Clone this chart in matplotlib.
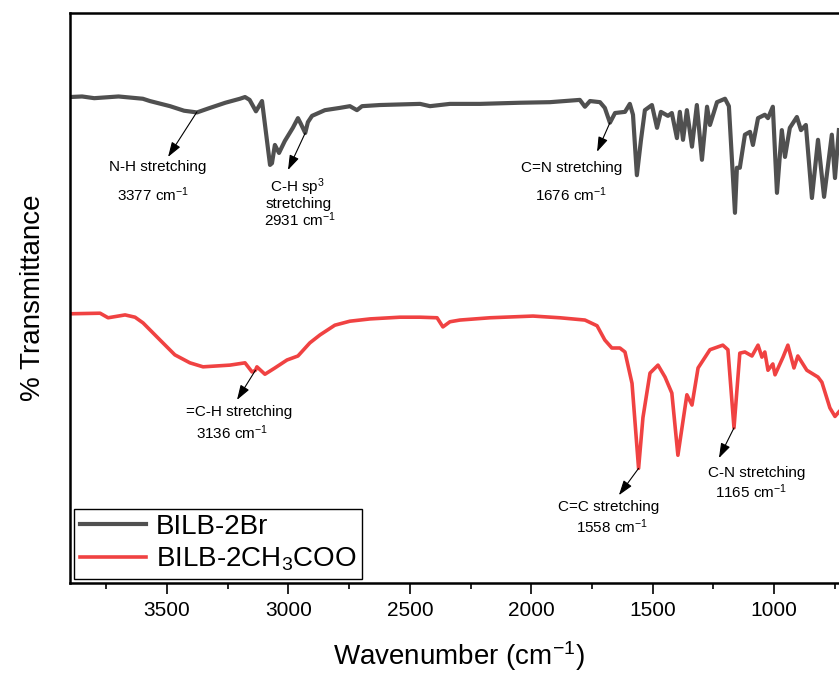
import matplotlib
matplotlib.use('Agg')
import matplotlib.pyplot as plt
from matplotlib.ticker import MultipleLocator

plt.rcParams['font.family'] = 'Liberation Sans'
plt.rcParams['mathtext.fontset'] = 'custom'
plt.rcParams['mathtext.rm'] = 'Liberation Sans'
plt.rcParams['mathtext.default'] = 'regular'

# FTIR spectra: wavenumber (cm-1) and transmittance (arb. %)
wn_br = [3900, 3850, 3800, 3700, 3600, 3571, 3488, 3430, 3377, 3330, 3260, 3200,
         3179, 3160, 3134, 3109, 3089, 3076, 3068, 3056, 3039, 3015, 2982, 2961,
         2949, 2931, 2920, 2903, 2850, 2788, 2747, 2718, 2697, 2623, 2541, 2458,
         2417, 2335, 2211, 2047, 1923, 1800, 1779, 1758, 1717, 1697, 1676, 1655,
         1614, 1594, 1581, 1565, 1548, 1532, 1503, 1482, 1466, 1437, 1421, 1400,
         1388, 1375, 1359, 1338, 1318, 1297, 1276, 1264, 1235, 1202, 1186, 1161,
         1153, 1141, 1120, 1099, 1087, 1066, 1038, 1025, 1005, 988, 968, 955,
         935, 906, 889, 869, 844, 819, 794, 762, 749, 733]
t_br = [85.2, 85.3, 85.0, 85.3, 84.9, 84.5, 83.6, 82.8, 82.5, 83.2, 84.2, 84.9,
        85.2, 84.7, 82.7, 84.5, 77.7, 73.3, 73.6, 76.8, 75.4, 77.5, 79.8, 81.5,
        80.5, 78.9, 80.8, 81.9, 82.9, 83.3, 83.6, 82.9, 83.6, 83.8, 83.9, 84.0,
        83.6, 84.0, 84.0, 84.2, 84.3, 84.7, 83.5, 84.5, 84.3, 83.3, 80.7, 82.4,
        82.6, 84.0, 82.1, 71.5, 77.7, 82.9, 83.8, 79.8, 82.6, 81.9, 82.4, 78.0,
        82.6, 77.7, 82.9, 76.5, 83.8, 74.2, 83.5, 80.3, 84.3, 84.9, 83.6, 64.9,
        72.8, 72.8, 78.6, 79.1, 76.8, 81.5, 82.1, 81.5, 83.5, 68.4, 79.4, 74.7,
        79.8, 81.7, 79.4, 80.3, 67.5, 77.7, 67.7, 78.6, 71.0, 79.4]

wn_ac = [3900, 3776, 3743, 3673, 3632, 3599, 3529, 3468, 3406, 3352, 3241, 3179,
         3150, 3136, 3130, 3097, 3056, 3006, 2961, 2912, 2870, 2809, 2747, 2664,
         2541, 2458, 2388, 2364, 2335, 2294, 2170, 1993, 1882, 1779, 1729, 1697,
         1668, 1635, 1614, 1585, 1558, 1540, 1511, 1478, 1449, 1421, 1396, 1359,
         1338, 1313, 1264, 1211, 1190, 1165, 1141, 1120, 1091, 1066, 1050, 1038,
         1025, 1005, 996, 963, 943, 918, 902, 865, 819, 803, 770, 749, 733]
t_ac = [47.2, 47.3, 46.5, 47.0, 46.6, 45.6, 42.6, 40.0, 38.6, 37.9, 38.2, 38.6,
        37.0, 37.3, 37.9, 36.6, 37.7, 39.1, 39.8, 42.1, 43.5, 45.2, 45.9, 46.3,
        46.6, 46.6, 46.5, 44.9, 45.8, 46.1, 46.5, 46.8, 46.5, 46.1, 45.1, 42.6,
        41.2, 41.2, 40.5, 35.0, 20.1, 29.0, 36.8, 38.2, 36.1, 33.3, 22.4, 33.0,
        31.2, 37.7, 40.9, 41.7, 40.9, 27.2, 40.3, 40.5, 39.8, 41.7, 39.6, 40.5,
        37.3, 38.4, 36.5, 39.6, 41.7, 37.7, 39.8, 37.3, 36.1, 35.2, 30.7, 29.2, 30.0]

series_names = ['BILB-2Br', 'BILB-2CH$_3$COO']
series_colors = ['#505050', '#f04242']

# band assignments: (label lines, peak wavenumber, peak value, arrow head, text centres)
bands = [
    (['N-H stretching', '3377 cm$^{-1}$'], (3377, 82.6), (3496, 74.7), [(3540, 72.9), (3558, 68.0)]),
    (['C-H sp$^{3}$', 'stretching', '2931 cm$^{-1}$'], (2931, 78.9), (3002, 72.4),
     [(2961, 69.4), (2957, 66.5), (2953, 63.7)]),
    (['C=N stretching', '1676 cm$^{-1}$'], (1676, 80.7), (1729, 75.6), [(1832, 72.8), (1837, 68.0)]),
    (['=C-H stretching', '3136 cm$^{-1}$'], (3136, 37.3), (3212, 32.1), [(3204, 30.0), (3233, 26.3)]),
    (['C=C stretching', '1558 cm$^{-1}$'], (1558, 20.1), (1639, 15.4), [(1680, 13.3), (1668, 9.8)]),
    (['C-N stretching', '1165 cm$^{-1}$'], (1165, 27.2), (1227, 21.9), [(1070, 19.3), (1095, 16.0)]),
]

fig = plt.figure(figsize=(8.39, 6.75), dpi=100)
ax = fig.add_axes([0.0834, 0.1363, 0.926, 0.845])

ax.plot(wn_br, t_br, color=series_colors[0], lw=3, label=series_names[0])
ax.plot(wn_ac, t_ac, color=series_colors[1], lw=2.6, label=series_names[1])

for lines, peak, head, spots in bands:
    ax.annotate('', xy=head, xytext=peak,
                arrowprops=dict(arrowstyle='-|>,head_length=0.9,head_width=0.3',
                                color='black', lw=0.8, shrinkA=0, shrinkB=0))
    for txt, (x, y) in zip(lines, spots):
        ax.text(x, y, txt, ha='center', va='center', fontsize=11)

ax.set_xlim(3900, 700)
ax.set_ylim(0, 100)
ax.xaxis.set_major_locator(MultipleLocator(500))
ax.xaxis.set_minor_locator(MultipleLocator(250))
ax.tick_params(axis='x', which='major', direction='out', length=8, width=1.2,
               labelsize=15, pad=5)
ax.tick_params(axis='x', which='minor', direction='out', length=4.3, width=1.2)
ax.set_yticks([])
ax.spines['right'].set_visible(False)
for s in ['left', 'top', 'bottom']:
    ax.spines[s].set_linewidth(1.8)

ax.set_xlabel('Wavenumber (cm$^{-1}$)', fontsize=20, labelpad=14)
ax.set_ylabel('% Transmittance', fontsize=20, labelpad=17)

leg = ax.legend(loc='lower left', fontsize=20, frameon=True, fancybox=False,
                edgecolor='black', framealpha=1, borderaxespad=0.15,
                handlelength=2.4, handletextpad=0.35, labelspacing=0.2,
                borderpad=0.2)
leg.get_frame().set_linewidth(1.0)

fig.savefig('out.png', dpi=100)
